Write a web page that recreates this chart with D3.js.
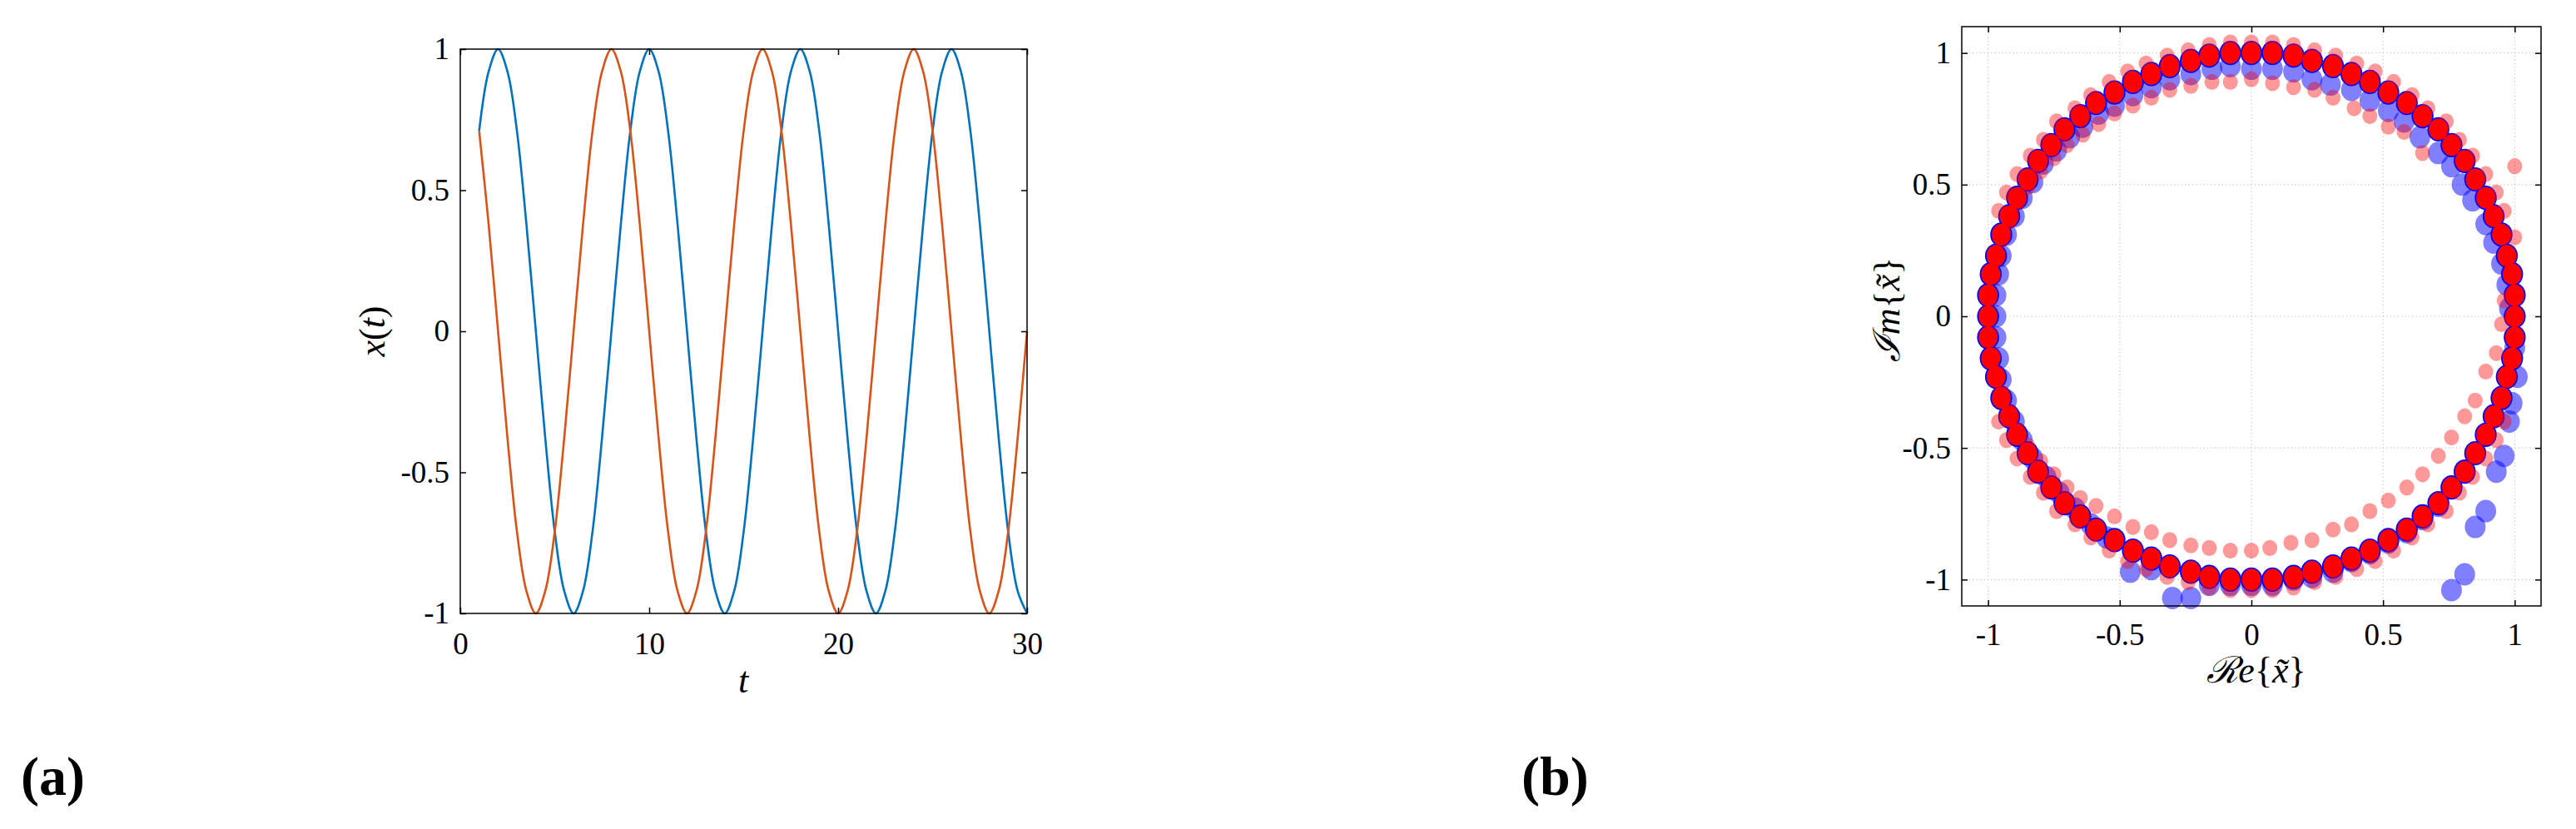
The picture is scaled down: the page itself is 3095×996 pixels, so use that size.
<!DOCTYPE html>
<html>
<head>
<meta charset="utf-8">
<script src="https://cdn.jsdelivr.net/npm/d3@7"></script>
<style>
  body { margin: 0; background: #fff; }
  text { font-family: "Liberation Serif", "DejaVu Serif", serif; fill: #000; }
</style>
</head>
<body>
<svg id="fig"></svg>
<script>
// ---- panel (a): x(t) samples ----
const tVals = [1, 1.5, 2, 2.5, 3, 3.5, 4, 4.5, 5, 5.5, 6, 6.5, 7, 7.5, 8, 8.5, 9, 9.5, 10, 10.5,
  11, 11.5, 12, 12.5, 13, 13.5, 14, 14.5, 15, 15.5, 16, 16.5, 17, 17.5, 18, 18.5, 19, 19.5, 20, 20.5,
  21, 21.5, 22, 22.5, 23, 23.5, 24, 24.5, 25, 25.5, 26, 26.5, 27, 27.5, 28, 28.5, 29, 29.5, 30];
const xBlue = [.71, .92, 1, .92, .71, .38, 0, -.38, -.71, -.92, -1, -.92, -.71, -.38, 0, .38,
  .71, .92, 1, .92, .71, .38, 0, -.38, -.71, -.92, -1, -.92, -.71, -.38, 0, .38,
  .71, .92, 1, .92, .71, .38, 0, -.38, -.71, -.92, -1, -.92, -.71, -.38, 0, .38,
  .71, .92, 1, .92, .71, .38, 0, -.38, -.71, -.92, -1];
const xOrange = [.71, .38, 0, -.38, -.71, -.92, -1, -.92, -.71, -.38, 0, .38, .71, .92, 1, .92,
  .71, .38, 0, -.38, -.71, -.92, -1, -.92, -.71, -.38, 0, .38, .71, .92, 1, .92,
  .71, .38, 0, -.38, -.71, -.92, -1, -.92, -.71, -.38, 0, .38, .71, .92, 1, .92,
  .71, .38, 0, -.38, -.71, -.92, -1, -.92, -.71, -.38, 0];
const tTicks = [0, 10, 20, 30];
const xTicksA = [-1, -0.5, 0, 0.5, 1];

// ---- panel (b): complex points ----
const ringRe = [1, 1, .99, .97, .95, .92, .89, .85, .81, .76, .71, .65, .59, .52, .45, .38, .31, .23, .16, .08,
  0, -.08, -.16, -.23, -.31, -.38, -.45, -.52, -.59, -.65, -.71, -.76, -.81, -.85, -.89, -.92, -.95, -.97, -.99, -1,
  -1, -1, -.99, -.97, -.95, -.92, -.89, -.85, -.81, -.76, -.71, -.65, -.59, -.52, -.45, -.38, -.31, -.23, -.16, -.08,
  0, .08, .16, .23, .31, .38, .45, .52, .59, .65, .71, .76, .81, .85, .89, .92, .95, .97, .99, 1];
const ringIm = [0, .08, .16, .23, .31, .38, .45, .52, .59, .65, .71, .76, .81, .85, .89, .92, .95, .97, .99, 1,
  1, 1, .99, .97, .95, .92, .89, .85, .81, .76, .71, .65, .59, .52, .45, .38, .31, .23, .16, .08,
  0, -.08, -.16, -.23, -.31, -.38, -.45, -.52, -.59, -.65, -.71, -.76, -.81, -.85, -.89, -.92, -.95, -.97, -.99, -1,
  -1, -1, -.99, -.97, -.95, -.92, -.89, -.85, -.81, -.76, -.71, -.65, -.59, -.52, -.45, -.38, -.31, -.23, -.16, -.08];

const lightBlueRe = [.98, .97, .95, .92, .89, .84, .80, .76, .71, .64, .58, .52, .45, .38, .30, .23, .16, .08, 0, -.08,
  -.15, -.23, -.31, -.38, -.45, -.52, -.58, -.64, -.69, -.74, -.79, -.83, -.87, -.90, -.93, -.95, -.96, -.97, -.97, -.97,
  -.96, -.95, -.93, -.90, -.87, -.83, -.78, -.73, -.67, -.61, -.55, -.46, -.38, -.30, -.23, -.16, -.08, 0, .08, .16,
  .23, .31, .38, .45, .52, .59, .65, .71, .76, .81, .85, .89, .93, .96, .98, .99, 1.01, 1.0];
const lightBlueIm = [.03, .12, .20, .28, .35, .44, .50, .57, .62, .68, .74, .78, .82, .86, .88, .90, .93, .94, .94, .95,
  .94, .92, .90, .87, .84, .80, .77, .72, .68, .63, .58, .51, .45, .38, .31, .23, .16, .08, 0, -.08,
  -.16, -.24, -.32, -.40, -.47, -.54, -.61, -.67, -.73, -.79, -.84, -.97, -.96, -1.07, -1.07, -1.02, -1.02, -1.02, -1.02, -1.0,
  -.99, -.97, -.93, -.90, -.86, -.82, -.77, -.72, -1.04, -.98, -.80, -.74, -.59, -.53, -.40, -.33, -.23, -.12];

const pinkOutRe = [1, 1, .99, .97, .95, .96, .93, .89, .84, .79, .74, .67, .61, .54, .47, .40, .32, .24, .16, .08,
  0, -.08, -.16, -.24, -.32, -.40, -.47, -.54, -.61, -.67, -.74, -.79, -.84, -.89, -.93, -.96, -.95, -.97, -.99, -1,
  -1, -1, -.99, -.97, -.95, -.96, -.93, -.89, -.84, -.79, -.74, -.67, -.61, -.54, -.47, -.40, -.32, -.24, -.16, -.08,
  0, .08, .16, .24, .32, .40, .47, .54, .61, .67, .74, .79, .84, .89, .93, .96, .95, .97, .99, 1];
const pinkOutIm = [0, .08, .16, .23, .31, .40, .47, .54, .61, .67, .74, .79, .84, .89, .93, .96, .99, 1.01, 1.03, 1.04,
  1.04, 1.04, 1.03, 1.01, .99, .96, .93, .89, .84, .79, .74, .67, .61, .54, .47, .40, .31, .23, .16, .08,
  0, -.08, -.16, -.23, -.31, -.40, -.47, -.54, -.61, -.67, -.74, -.79, -.84, -.89, -.93, -.96, -.99, -1.01, -1.03, -1.04,
  -1.04, -1.04, -1.03, -1.01, -.99, -.96, -.93, -.89, -.84, -.79, -.74, -.67, -.61, -.54, -.47, -.40, -.31, -.23, -.16, -.08];

const pinkInRe = [.65, .58, .52, .45, .39, .31, .24, .16, .08, 0, -.08, -.15, -.23, -.31, -.38, -.45, -.52, -.58, -.64, -.70,
  -.75, -.80, -.85, -.89, -.92, -.95, -.97, -.98, -.99, -1, -.99, -.98, -.97, -.95, -.92, -.89, -.85, -.80, -.75, -.70,
  -.65, -.59, -.52, -.45, -.38, -.31, -.23, -.16, -.08, 0, .07, .15, .23, .31, .38, .45, .52, .59, .65, .71,
  .76, .81, .85, .89, .93, .95, .96, 1, 1];
const pinkInIm = [.62, .70, .72, .76, .79, .83, .86, .87, .885, .90, .89, .89, .875, .86, .83, .80, .77, .73, .69, .65,
  .60, .55, .49, .43, .36, .29, .22, .15, .07, 0, -.07, -.15, -.22, -.29, -.36, -.43, -.49, -.55, -.60, -.65,
  -.69, -.72, -.76, -.80, -.82, -.85, -.87, -.88, -.89, -.89, -.88, -.86, -.85, -.81, -.79, -.74, -.70, -.65, -.60, -.53,
  -.46, -.38, -.32, -.21, -.14, -.03, .06, .30, .57];
const reimTicks = [-1, -0.5, 0, 0.5, 1];

const W = 3095, H = 996;
const svg = d3.select('#fig').attr('width', W).attr('height', H);
svg.append('rect').attr('width', W).attr('height', H).attr('fill', '#fff');

const tickFmt = d => (d < 0 ? '-' + Math.abs(d) : String(d));

// box with inward ticks on all four sides
function frame(x, y, xt, yt, padB) {
  const [x0, x1] = x.range(), [y0, y1] = y.range();
  const axes = [
    [d3.axisBottom(x).tickValues(xt).tickFormat(tickFmt).tickPadding(padB), `translate(0,${y0})`],
    [d3.axisTop(x).tickValues(xt).tickFormat(''), `translate(0,${y1})`],
    [d3.axisLeft(y).tickValues(yt).tickFormat(tickFmt).tickPadding(13), `translate(${x0},0)`],
    [d3.axisRight(y).tickValues(yt).tickFormat(''), `translate(${x1},0)`]
  ];
  axes.forEach(([ax, tr]) => {
    const g = svg.append('g').attr('transform', tr).call(ax.tickSize(-7))
      .attr('font-family', '"Liberation Serif", serif');
    g.select('.domain').remove();
    g.selectAll('.tick line').attr('stroke', '#000').attr('stroke-width', 1.5);
    g.selectAll('.tick text').attr('font-size', 37).attr('fill', '#000');
  });
  svg.append('rect')
    .attr('x', x0).attr('y', y1).attr('width', x1 - x0).attr('height', y0 - y1)
    .attr('fill', 'none').attr('stroke', '#000').attr('stroke-width', 1.5);
}

// ---------- panel (a) ----------
const xA = d3.scaleLinear().domain([0, 30]).range([553, 1234]);
const yA = d3.scaleLinear().domain([-1, 1]).range([737, 59]);

const line = d3.line()
  .x(d => xA(d[0]))
  .y(d => yA(d[1]))
  .curve(d3.curveCatmullRom.alpha(0.5));

svg.append('path').datum(d3.zip(tVals, xBlue))
  .attr('d', line).attr('fill', 'none').attr('stroke', '#0072BD').attr('stroke-width', 2.6);
svg.append('path').datum(d3.zip(tVals, xOrange))
  .attr('d', line).attr('fill', 'none').attr('stroke', '#D95319').attr('stroke-width', 2.6);

frame(xA, yA, tTicks, xTicksA, 23);

// axis labels (a)
svg.append('text').attr('x', 893).attr('y', 832).attr('text-anchor', 'middle')
  .attr('font-size', 44).attr('font-style', 'italic').text('t');
const ylabA = svg.append('text').attr('transform', 'translate(462,398) rotate(-90)')
  .attr('text-anchor', 'middle').attr('font-size', 44);
ylabA.append('tspan').attr('font-style', 'italic').text('x');
ylabA.append('tspan').text('(');
ylabA.append('tspan').attr('font-style', 'italic').text('t');
ylabA.append('tspan').text(')');

// ---------- panel (b) ----------
const xB = d3.scaleLinear().domain([-1.1, 1.1]).range([2357, 3053]);
const yB = d3.scaleLinear().domain([-1.1, 1.1]).range([728, 32]);

// dotted grid
const grid = svg.append('g').attr('stroke', '#c4c4c4').attr('stroke-width', 1.2)
  .attr('stroke-dasharray', '1.2,3.2');
grid.selectAll('.gx').data(reimTicks).join('line')
  .attr('x1', d => xB(d)).attr('x2', d => xB(d)).attr('y1', yB(-1.1)).attr('y2', yB(1.1));
grid.selectAll('.gy').data(reimTicks).join('line')
  .attr('y1', d => yB(d)).attr('y2', d => yB(d)).attr('x1', xB(-1.1)).attr('x2', xB(1.1));

// markers are slightly taller than wide in the reference
function dots(re, im, rx, ry, fill, op) {
  svg.append('g').selectAll('ellipse').data(d3.zip(re, im)).join('ellipse')
    .attr('cx', d => xB(d[0])).attr('cy', d => yB(d[1]))
    .attr('rx', rx).attr('ry', ry).attr('fill', fill).attr('fill-opacity', op);
}

dots(lightBlueRe, lightBlueIm, 12.5, 13.5, '#0000ff', 0.5);
dots(ringRe, ringIm, 13.2, 14.6, '#0000ff', 1);
dots(ringRe, ringIm, 11.4, 13, '#ff0000', 1);
dots(pinkOutRe, pinkOutIm, 9, 9.6, '#ff0000', 0.4);
dots(pinkInRe, pinkInIm, 9, 9.6, '#ff0000', 0.4);

frame(xB, yB, reimTicks, reimTicks, 21);

// axis labels (b)
const xlabB = svg.append('text').attr('x', 2711).attr('y', 820).attr('text-anchor', 'middle').attr('font-size', 44);
xlabB.append('tspan').style('font-family', '"DejaVu Serif", serif').attr('font-style', 'italic').text('\u211B');
xlabB.append('tspan').attr('font-style', 'italic').text('e');
xlabB.append('tspan').text('{');
xlabB.append('tspan').attr('font-style', 'italic').text('x\u0303');
xlabB.append('tspan').text('}');

const ylabB = svg.append('text').attr('transform', 'translate(2282,372) rotate(-90)')
  .attr('text-anchor', 'middle').attr('font-size', 44);
ylabB.append('tspan').style('font-family', '"DejaVu Serif", serif').attr('font-style', 'italic').text('\u2110');
ylabB.append('tspan').attr('font-style', 'italic').text('m');
ylabB.append('tspan').text('{');
ylabB.append('tspan').attr('font-style', 'italic').text('x\u0303');
ylabB.append('tspan').text('}');

// panel letters
svg.append('text').attr('x', 25).attr('y', 955).attr('font-size', 66).attr('font-weight', 'bold').text('(a)');
svg.append('text').attr('x', 1828).attr('y', 955).attr('font-size', 66).attr('font-weight', 'bold').text('(b)');
</script>
</body>
</html>
